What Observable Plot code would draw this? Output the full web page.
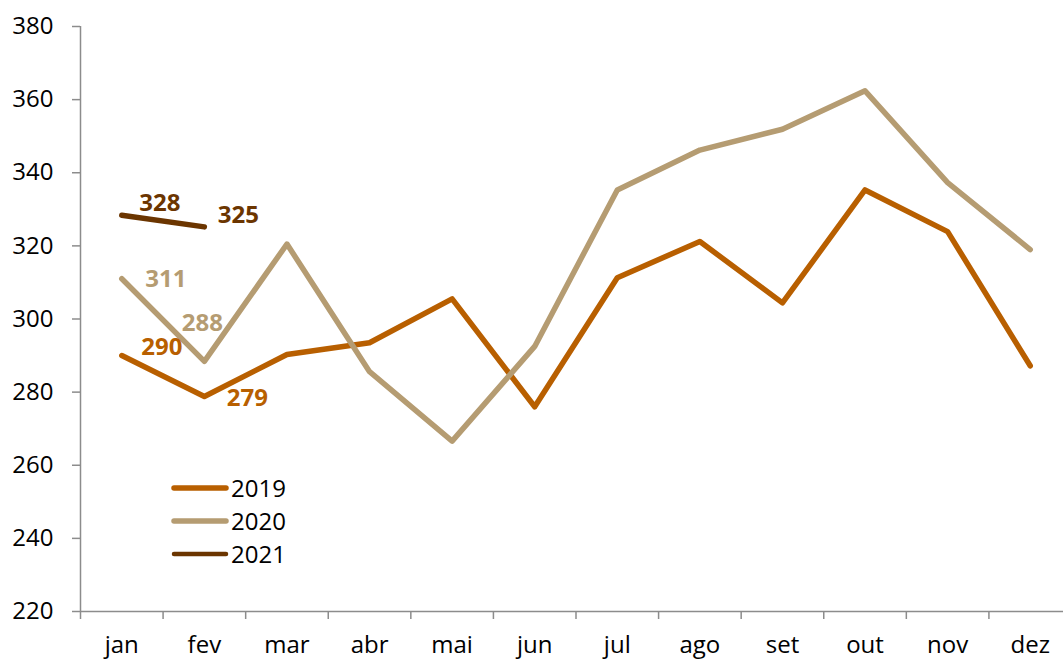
<!DOCTYPE html>
<html>
<head>
<meta charset="utf-8">
<script src="https://cdn.jsdelivr.net/npm/d3@7"></script>
<script src="https://cdn.jsdelivr.net/npm/@observablehq/plot@0.6"></script>
<style>
  html, body { margin: 0; padding: 0; background: #fff; }
  #wrap { position: relative; width: 1063px; height: 659px; overflow: hidden; font-family: "Open Sans", sans-serif; }
  #legend { position: absolute; left: 170px; top: 471px; }
  .row { display: flex; align-items: center; height: 33px; font-size: 24px; color: #000; }
  .row svg { margin-right: 1px; }
</style>
</head>
<body>
<div id="wrap"><div id="chart"></div><div id="legend"></div></div>
<script>
const months = ["jan","fev","mar","abr","mai","jun","jul","ago","set","out","nov","dez"];
const years = ["2019","2020","2021"];
const colors = ["#B85F00","#B59C72","#6B3500"];
const v2019 = [290, 278.8, 290.3, 293.5, 305.5, 276, 311.3, 321.2, 304.4, 335.3, 323.9, 287.2];
const v2020 = [311, 288.4, 320.5, 285.6, 266.6, 292.5, 335.3, 346.2, 351.9, 362.4, 337.3, 319];
const v2021 = [328.4, 325.2];
const yTicks = [220, 240, 260, 280, 300, 320, 340, 360, 380];
// labelled points: [year, month index]
const labelled = [["2019",0],["2019",1],["2020",0],["2020",1],["2021",0],["2021",1]];

const series = {"2019": v2019, "2020": v2020, "2021": v2021};
const rows = [];
for (const y of years) series[y].forEach((v, i) => rows.push({year: y, m: i, value: v}));
const labels = labelled.map(([y, i]) => ({year: y, m: i, value: series[y][i]}));
// label offsets (px) relative to the point
const off = {"2019-0":[40,-8],"2019-1":[43,2],"2020-0":[44,1],"2020-1":[-2,-38],"2021-0":[38,-12],"2021-1":[34,-12]};

const boundaries = d3.range(-0.5, 12, 1);
const axisGray = "#8c8c8c";

const chart = Plot.plot({
  width: 1063,
  height: 659,
  marginLeft: 80,
  marginRight: 0,
  marginTop: 26,
  marginBottom: 48,
  style: {fontFamily: "Open Sans, sans-serif", fontSize: "24px", background: "#fff"},
  x: {type: "linear", domain: [-0.5, 11.5], range: [80, 1071], label: null},
  y: {domain: [220, 380], label: null},
  color: {domain: years, range: colors},
  marks: [
    Plot.ruleY([220], {stroke: axisGray, strokeWidth: 1.5}),
    Plot.ruleX([-0.5], {stroke: axisGray, strokeWidth: 1.5}),
    Plot.axisX({ticks: boundaries, tickSize: 8, tickFormat: () => "", stroke: axisGray, strokeWidth: 1.5, label: null}),
    Plot.axisX({ticks: d3.range(12), tickSize: 0, tickPadding: 24, tickFormat: i => months[i], fill: "#000", fontSize: 24, label: null}),
    Plot.axisY({ticks: yTicks, tickSize: 8, tickFormat: () => "", stroke: axisGray, strokeWidth: 1.5, label: null}),
    Plot.axisY({ticks: yTicks, tickSize: 0, tickPadding: 27, fill: "#000", fontSize: 24, label: null}),
    Plot.line(rows, {x: "m", y: "value", z: "year", stroke: "year", strokeWidth: 5.5, strokeLinejoin: "round", strokeLinecap: "round"}),
    ...labels.map(d => {
      const [dx, dy] = off[d.year + "-" + d.m];
      return Plot.text([d], {x: "m", y: "value", text: d => d3.format(".0f")(d.value), fill: "year", fontWeight: "bold", fontSize: 24, dx, dy});
    })
  ]
});
document.getElementById("chart").appendChild(chart);

const legend = document.getElementById("legend");
years.forEach((y, i) => {
  const row = document.createElement("div");
  row.className = "row";
  row.innerHTML = `<svg width="60" height="10"><line x1="4" y1="5" x2="56" y2="5" stroke="${colors[i]}" stroke-width="${i === 2 ? 4.5 : 5.5}" stroke-linecap="round"/></svg><span>${y}</span>`;
  legend.appendChild(row);
});
</script>
</body>
</html>
